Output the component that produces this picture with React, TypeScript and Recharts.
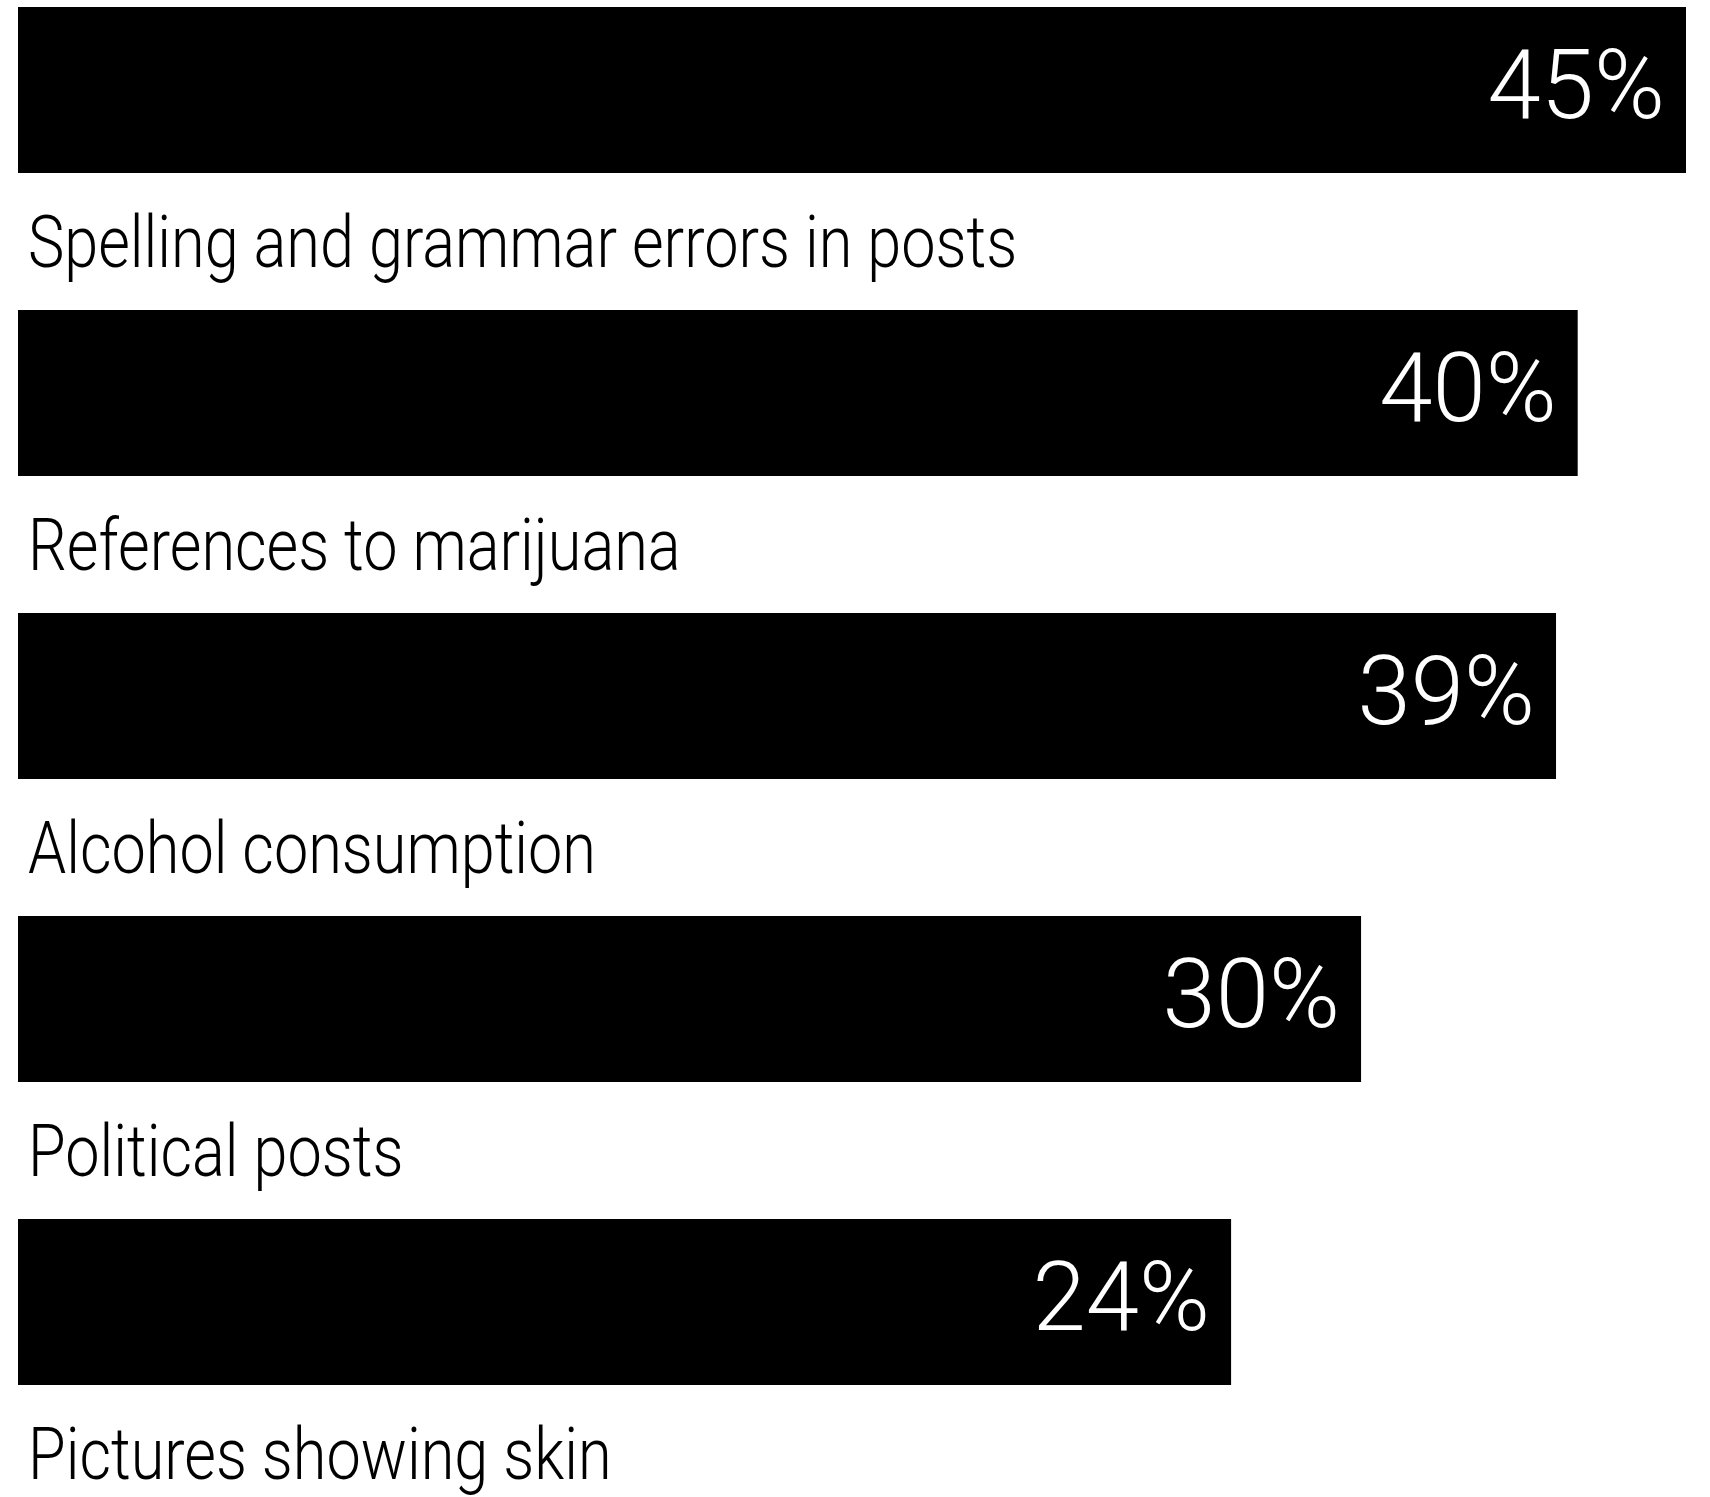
import React from "react";
import { BarChart, Bar, XAxis, YAxis, LabelList } from "recharts";

// categories and values, top to bottom
const categories = [
  "Spelling and grammar errors in posts",
  "References to marijuana",
  "Alcohol consumption",
  "Political posts",
  "Pictures showing skin",
];
const shares = [45, 40, 39, 30, 24];

// the value axis does not start at zero in the original
const AXIS_MIN = -32;
const AXIS_MAX = 45;

const data = categories.map((name, i) => ({
  name,
  value: shares[i],
  span: [AXIS_MIN, shares[i]],
}));

const FONT = "Roboto, 'Noto Sans', sans-serif";

function CategoryLabel(props: any) {
  const { x, y, height, value } = props;
  const tx = x + 10;
  const ty = y + height + 94;
  return (
    <text
      transform={`translate(${tx},${ty}) scale(0.85,1)`}
      fontFamily={FONT}
      fontWeight={300}
      fontSize={72}
      fill="#000"
    >
      {value}
    </text>
  );
}

function PercentLabel(props: any) {
  const { x, y, width, height, value } = props;
  return (
    <text
      x={x + width - 21}
      y={y + height / 2 + 28}
      textAnchor="end"
      fontFamily={FONT}
      fontWeight={300}
      fontSize={96}
      fill="#fff"
    >
      {value}%
    </text>
  );
}

export default function App() {
  return (
    <div style={{ width: 1710, height: 1497, overflow: "hidden", background: "#fff" }}>
      <style>{"body{margin:0;background:#fff}"}</style>
      <div style={{ marginTop: -62 }}>
        <BarChart
          width={1710}
          height={1580}
          data={data}
          layout="vertical"
          barSize={166}
          margin={{ top: 0, right: 24, bottom: 65, left: 18 }}
        >
          <XAxis type="number" domain={[AXIS_MIN, AXIS_MAX]} hide />
          <YAxis type="category" dataKey="name" hide />
          <Bar dataKey="span" fill="#000" isAnimationActive={false}>
            <LabelList dataKey="value" content={PercentLabel} />
            <LabelList dataKey="name" content={CategoryLabel} />
          </Bar>
        </BarChart>
      </div>
    </div>
  );
}
